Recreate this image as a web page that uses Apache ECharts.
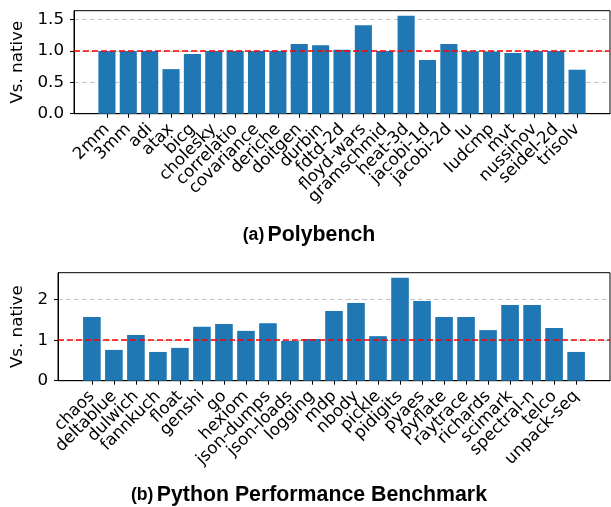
<!DOCTYPE html>
<html><head><meta charset="utf-8">
<script src="https://cdn.jsdelivr.net/npm/echarts@6/dist/echarts.min.js"></script>
<style>html,body{margin:0;padding:0;background:#fff}#c{width:611px;height:507px}</style>
</head><body><div id="c"></div>
<script>
const polyCats = ['2mm','3mm','adi','atax','bicg','cholesky','correlatio','covariance','deriche','doitgen','durbin','fdtd-2d','floyd-wars','gramschmid','heat-3d','jacobi-1d','jacobi-2d','lu','ludcmp','mvt','nussinov','seidel-2d','trisolv'];
const polyVals = [1.0,1.0,1.0,0.71,0.95,1.0,1.0,1.0,1.0,1.11,1.09,1.02,1.41,1.0,1.56,0.855,1.11,0.995,0.99,0.965,1.0,1.0,0.70];
const pyCats = ['chaos','deltablue','dulwich','fannkuch','float','genshi','go','hexiom','json-dumps','json-loads','logging','mdp','nbody','pickle','pidigits','pyaes','pyflate','raytrace','richards','scimark','spectral-n','telco','unpack-seq'];
const pyVals = [1.57,0.76,1.13,0.71,0.81,1.33,1.40,1.23,1.42,0.98,1.03,1.72,1.92,1.10,2.54,1.97,1.57,1.57,1.25,1.87,1.87,1.30,0.71];
const polyYTicks = [0,0.5,1.0,1.5];
const pyYTicks = [0,1,2];
const refLine = 1;
const titleA = ['(a)','Polybench'];
const titleB = ['(b)','Python Performance Benchmark'];

const chart = echarts.init(document.getElementById('c'), null, {renderer:'canvas'});
const tickFont = {fontFamily:'DejaVu Sans', fontSize:16.7, color:'#000'};

// panel frames (layout)
const panels = [
  {left:74, top:10.7, width:536, height:103, cats:polyCats, vals:polyVals, yTicks:polyYTicks, yMax:1.64, dec:1, gap:41.5},
  {left:58, top:272.7, width:552, height:108, cats:pyCats, vals:pyVals, yTicks:pyYTicks, yMax:2.667, dec:0, gap:25.5}
];

const grids = [], xAxes = [], yAxes = [], series = [];
panels.forEach((p, k) => {
  const n = p.cats.length;
  const m = 0.05 * ((n - 1) + 0.8);
  const xmin = -0.4 - m, xmax = (n - 1) + 0.4 + m;
  const unit = p.width / (xmax - xmin);
  const idx = p.cats.map((_, i) => i);
  // main frame grid (value x axis)
  grids.push({left:p.left, top:p.top, width:p.width, height:p.height, show:true, borderColor:'#000', borderWidth:1, backgroundColor:'transparent'});
  const gMain = grids.length - 1;
  xAxes.push({type:'value', gridIndex:gMain, min:xmin, max:xmax,
    axisLine:{show:true, onZero:false, lineStyle:{color:'#000', width:1}},
    axisTick:{show:true, length:4, customValues:idx, lineStyle:{color:'#000'}},
    axisLabel:{show:false}, splitLine:{show:false}});
  yAxes.push({type:'value', gridIndex:gMain, min:0, max:p.yMax,
    name:'Vs. native', nameLocation:'middle', nameGap:p.gap,
    nameTextStyle:{fontFamily:'DejaVu Sans', fontSize:16.7, color:'#000'},
    axisLine:{show:true, onZero:false, lineStyle:{color:'#000', width:1}},
    axisTick:{show:true, length:4, customValues:p.yTicks, lineStyle:{color:'#000'}},
    axisLabel:Object.assign({show:true, margin:10, customValues:p.yTicks,
      showMinLabel:true, showMaxLabel:true, formatter:v => v.toFixed(p.dec)}, tickFont),
    splitLine:{show:true, lineStyle:{color:'#c4c4c4', type:[5,3], width:1}}});
  // label overlay grid (category axis aligned with bars)
  grids.push({left:p.left + (-0.5 - xmin) * unit, top:p.top, width:n * unit, height:p.height, show:false});
  const gLab = grids.length - 1;
  xAxes.push({type:'category', gridIndex:gLab, data:p.cats, boundaryGap:true,
    axisLine:{show:false}, axisTick:{show:false}, splitLine:{show:false},
    axisLabel:Object.assign({show:true, interval:0, rotate:45, margin:13}, tickFont)});
  yAxes.push({type:'value', gridIndex:gLab, min:0, max:p.yMax, show:false});
  series.push({type:'bar', xAxisIndex:gMain, yAxisIndex:gMain,
    data: p.vals.map((v, i) => [i, v]),
    barWidth: 0.8 * unit,
    itemStyle:{color:'#1f77b4'},
    silent:true,
    markLine:{silent:true, symbol:'none', label:{show:false},
      lineStyle:{color:'#ff0000', type:[6,3], width:1.7},
      data:[{yAxis:refLine}]}});
});

function titleText(x, y, parts){
  return {type:'text', x:x, y:y, style:{
    text:'{a|' + parts[0] + '} {b|' + parts[1] + '}',
    textAlign:'center', textVerticalAlign:'bottom',
    rich:{a:{fontFamily:'Liberation Sans', fontWeight:'bold', fontSize:17.6, fill:'#000'},
          b:{fontFamily:'Liberation Sans', fontWeight:'bold', fontSize:21.3, fill:'#000'}}}};
}
chart.setOption({
  animation:false,
  backgroundColor:'#fff',
  grid:grids, xAxis:xAxes, yAxis:yAxes, series:series,
  graphic:[titleText(309, 245.5, titleA), titleText(309, 505.5, titleB)]
});
</script></body></html>
